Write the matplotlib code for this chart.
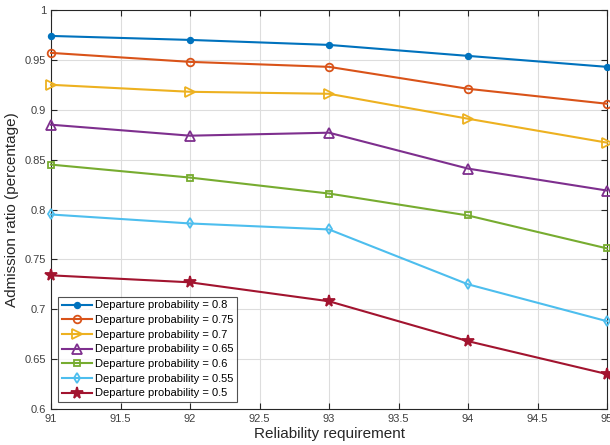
import matplotlib
matplotlib.use("Agg")
import matplotlib.pyplot as plt

plt.rcParams["font.family"] = ["Liberation Sans", "DejaVu Sans"]

reliability = [91, 92, 93, 94, 95]
departure_probs = ["0.8", "0.75", "0.7", "0.65", "0.6", "0.55", "0.5"]
ratio_08  = [0.974, 0.970, 0.965, 0.954, 0.943]
ratio_075 = [0.957, 0.948, 0.943, 0.921, 0.906]
ratio_07  = [0.925, 0.918, 0.916, 0.891, 0.867]
ratio_065 = [0.885, 0.874, 0.877, 0.841, 0.819]
ratio_06  = [0.845, 0.832, 0.816, 0.794, 0.761]
ratio_055 = [0.795, 0.786, 0.780, 0.725, 0.688]
ratio_05  = [0.734, 0.727, 0.708, 0.668, 0.635]

series = [ratio_08, ratio_075, ratio_07, ratio_065, ratio_06, ratio_055, ratio_05]
colors = ["#0072BD", "#D95319", "#EDB120", "#7E2F8E", "#77AC30", "#4DBEEE", "#A2142F"]
markers = [("o", 4, True), ("o", 5.5, False), (">", 6.5, False), ("^", 6.5, False),
           ("s", 4.5, False), ("d", 5.5, False), ("*", 8.5, True)]

fig = plt.figure(figsize=(6.1, 4.45), dpi=100)
ax = fig.add_axes([51 / 610, 1 - 409 / 445, 556 / 610, 399 / 445])

for vals, p, c, (m, ms, filled) in zip(series, departure_probs, colors, markers):
    ax.plot(reliability, vals, color=c, lw=1.5, marker=m, markersize=ms,
            markerfacecolor=c if filled else "none", markeredgecolor=c,
            markeredgewidth=1.3, clip_on=False, zorder=3,
            label=f"Departure probability = {p}")

ax.set_xlim(91, 95)
ax.set_ylim(0.6, 1.0)
ax.set_xticks([91, 91.5, 92, 92.5, 93, 93.5, 94, 94.5, 95])
ax.set_xticklabels(["91", "91.5", "92", "92.5", "93", "93.5", "94", "94.5", "95"])
ax.set_yticks([0.6, 0.65, 0.7, 0.75, 0.8, 0.85, 0.9, 0.95, 1.0])
ax.set_yticklabels(["0.6", "0.65", "0.7", "0.75", "0.8", "0.85", "0.9", "0.95", "1"])
ax.grid(True, color="#dddddd", lw=0.8)
ax.set_axisbelow(True)
ax.tick_params(direction="in", top=True, right=True, labelsize=8,
               colors="#262626", length=4, width=0.8)
ax.tick_params(labelcolor="#404040")
for s in ax.spines.values():
    s.set_color("#262626")
    s.set_linewidth(0.8)

ax.set_xlabel("Reliability requirement", fontsize=11, color="#262626", labelpad=2)
ax.set_ylabel("Admission ratio (percentage)", fontsize=11, color="#262626", labelpad=4)

leg = ax.legend(loc="lower left", fontsize=8, frameon=True, fancybox=False,
                edgecolor="#262626", handlelength=2.7, labelspacing=0.42,
                borderpad=0.35, handletextpad=0.3, borderaxespad=0.6)
leg.get_frame().set_linewidth(0.8)
leg.set_zorder(5)

fig.savefig("out.png", dpi=100, facecolor="white")
